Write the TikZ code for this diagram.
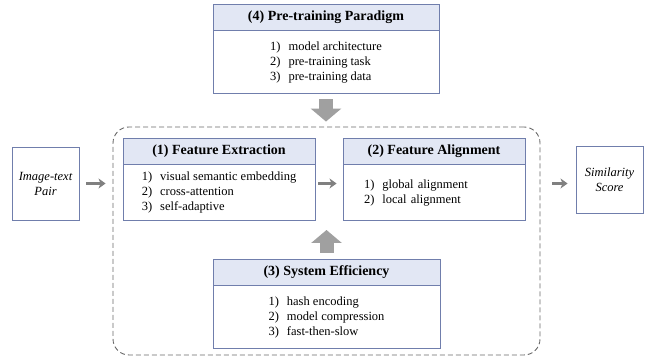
\documentclass[tikz,border=0pt]{standalone}
\usepackage{fontspec}
\setmainfont{Liberation Serif}
\usetikzlibrary{positioning,arrows.meta}

\definecolor{boxline}{RGB}{112,126,172}
\definecolor{hdrfill}{RGB}{226,231,244}
\definecolor{arrowgray}{RGB}{128,128,128}
\definecolor{fatgray}{RGB}{160,160,160}
\definecolor{framegray}{RGB}{105,105,105}

\newcommand{\itemlist}[1]{\begin{tabular}{@{}l@{\hspace{8pt}}l@{}}#1\end{tabular}}

\tikzset{
  hdr/.style={draw=boxline, fill=hdrfill, line width=0.9pt, minimum height=26pt,
    font=\fontsize{14}{16}\selectfont\bfseries},
  bodybox/.style={draw=boxline, line width=0.9pt, align=left,
    font=\fontsize{12.5}{15}\selectfont},
  endbox/.style={draw=boxline, line width=0.9pt, align=center,
    font=\fontsize{12.5}{15}\selectfont\itshape},
  thinarrow/.style={draw=arrowgray, line width=2.4pt, -{Stealth[length=7pt,width=10pt,inset=2pt]}},
  fatarrow/.style={draw=fatgray, line width=14pt, -{Triangle[length=13pt,width=30pt]}}
}

\begin{document}
\begin{tikzpicture}[x=1pt,y=1pt]
  \useasboundingbox (0,0) rectangle (650,358);

  % dashed frame round the core
  \node[draw=framegray, dash pattern=on 5pt off 3pt, line width=0.9pt, rounded corners=16pt,
    minimum width=427pt, minimum height=228pt] (frame) at (326.5,117) {};

  \node[endbox, minimum width=67pt, minimum height=73pt] (pair) at (45.5,174.5) {Image-text\\Pair};
  \node[endbox, minimum width=67pt, minimum height=67pt] (score) at (609.5,178.5) {Similarity\\Score};

  \node[hdr, minimum width=226pt] (hd4) at (326,341) {(4) Pre-training Paradigm};
  \node[bodybox, minimum width=226pt, minimum height=63pt, below=0pt of hd4] (bd4)
    {\itemlist{1) & model architecture\\ 2) & pre-training task\\ 3) & pre-training data}};

  \node[hdr, minimum width=192pt] (hd1) at (219,207) {(1) Feature Extraction};
  \node[bodybox, minimum width=192pt, minimum height=56pt, below=0pt of hd1] (bd1)
    {\itemlist{1) & visual semantic embedding\\ 2) & cross-attention\\ 3) & self-adaptive}};

  \node[hdr, minimum width=182pt] (hd2) at (434,207) {(2) Feature Alignment};
  \node[bodybox, minimum width=182pt, minimum height=56pt, text width=140pt, below=0pt of hd2] (bd2)
    {\itemlist{1) & global alignment\\ 2) & local alignment}};

  \node[hdr, minimum width=227pt] (hd3) at (326.5,86) {(3) System Efficiency};
  \node[bodybox, minimum width=227pt, minimum height=63pt, below=0pt of hd3] (bd3)
    {\itemlist{1) & hash encoding\\ 2) & model compression\\ 3) & fast-then-slow}};

  \coordinate (gap) at (326.5,138);

  \draw[fatarrow, shorten <=5pt, shorten >=5pt] (bd4.south) -- (bd4.south |- frame.north);
  \draw[fatarrow, shorten <=6pt, shorten >=10pt] (hd3.north) -- (gap);

  \draw[thinarrow, shorten <=7pt, shorten >=7pt] (pair.east) -- (frame.west |- pair.east);
  \draw[thinarrow, shorten <=3pt, shorten >=6pt] (bd1.east |- pair.east) -- (bd2.west |- pair.east);
  \draw[thinarrow, shorten <=12pt, shorten >=8pt] (frame.east |- pair.east) -- (score.west |- pair.east);
\end{tikzpicture}
\end{document}
